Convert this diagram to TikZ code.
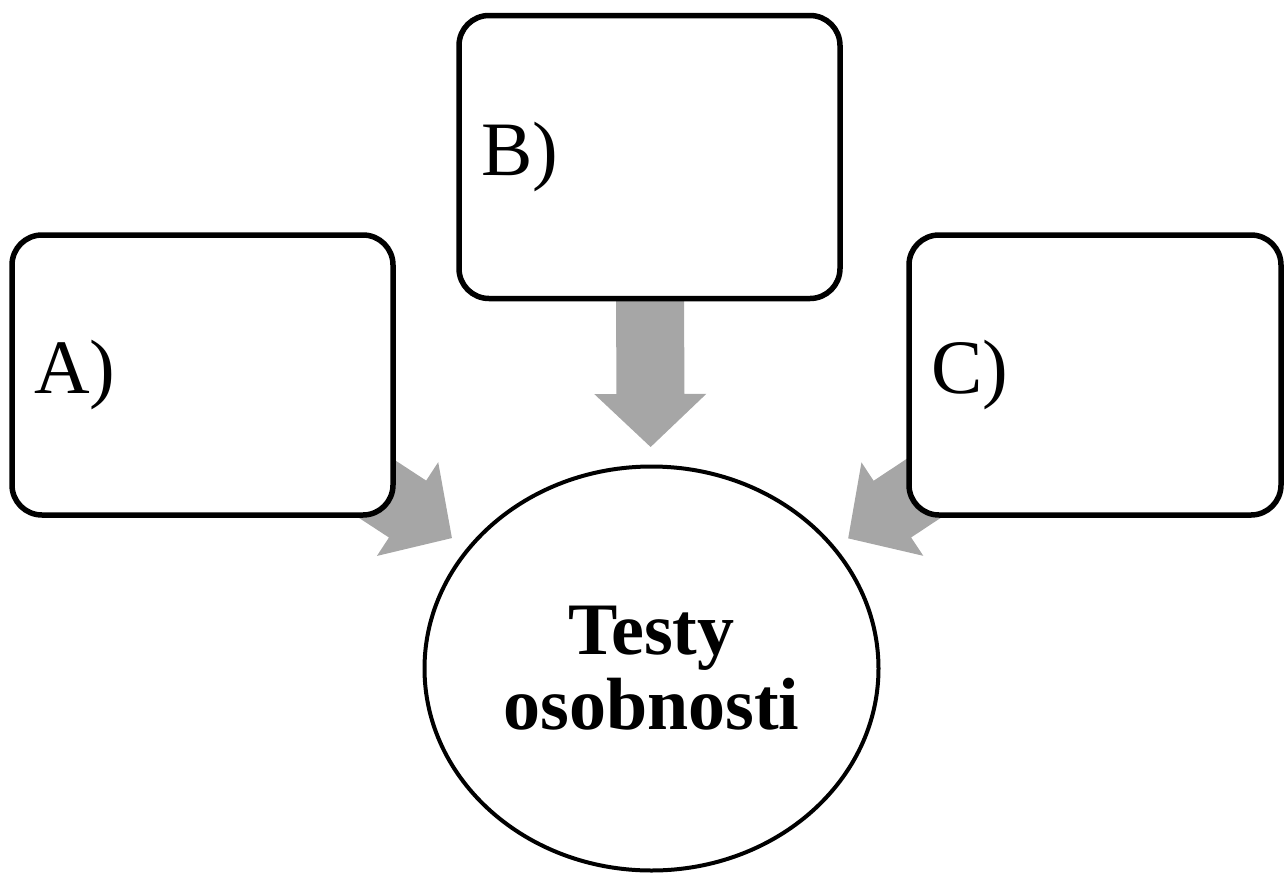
\documentclass[tikz,border=0pt]{standalone}
\usepackage{fontspec}
\setmainfont{Liberation Serif}
\usetikzlibrary{calc,shapes.geometric}
\pgfdeclarelayer{bg}
\pgfsetlayers{bg,main}
\definecolor{arrgray}{RGB}{166,166,166}
\newcommand\fatarrow[2]{%
  \pgfmathanglebetweenpoints{\pgfpointanchor{#1}{center}}{\pgfpointanchor{#2}{center}}%
  \let\arrang\pgfmathresult
  \begin{scope}[shift={(#2)}, rotate=\arrang]
    \fill[arrgray] (0pt,0pt) -- (-53pt,56pt) -- (-53pt,34pt) -- (-250pt,34pt)
      -- (-250pt,-34pt) -- (-53pt,-34pt) -- (-53pt,-56pt) -- cycle;
  \end{scope}}
\begin{document}
\begin{tikzpicture}[x=1pt,y=-1pt,
  box/.style={draw, line width=5.5pt, rounded corners=30pt, fill=white,
    font=\fontsize{77}{80}\selectfont, align=left, inner xsep=22pt,
    inner ysep=0pt, anchor=center},
  circ/.style={ellipse, draw, line width=4pt, fill=white, inner sep=0pt,
    align=center, font=\bfseries\fontsize{74}{75}\selectfont}]
\useasboundingbox (0,0) rectangle (1285,873);
\node[box, text width=337pt, minimum height=280pt] (A) at (202.5,375) {A)};
\node[box, text width=337pt, minimum height=283pt] (B) at (649.5,157) {B)};
\node[box, text width=328pt, minimum height=280pt] (C) at (1095,375) {C)};
\node[circ, minimum width=454pt, minimum height=404pt] (E) at (651.5,668.5) {Testy\\osobnosti};
\coordinate (tA) at ($(A.center)!298pt!(E.center)$);
\coordinate (tB) at ($(B.center)!290pt!(E.center)$);
\coordinate (tC) at ($(C.center)!296pt!(E.center)$);
\begin{pgfonlayer}{bg}
  \fatarrow{A}{tA}
  \fatarrow{B}{tB}
  \fatarrow{C}{tC}
\end{pgfonlayer}
\end{tikzpicture}
\end{document}
